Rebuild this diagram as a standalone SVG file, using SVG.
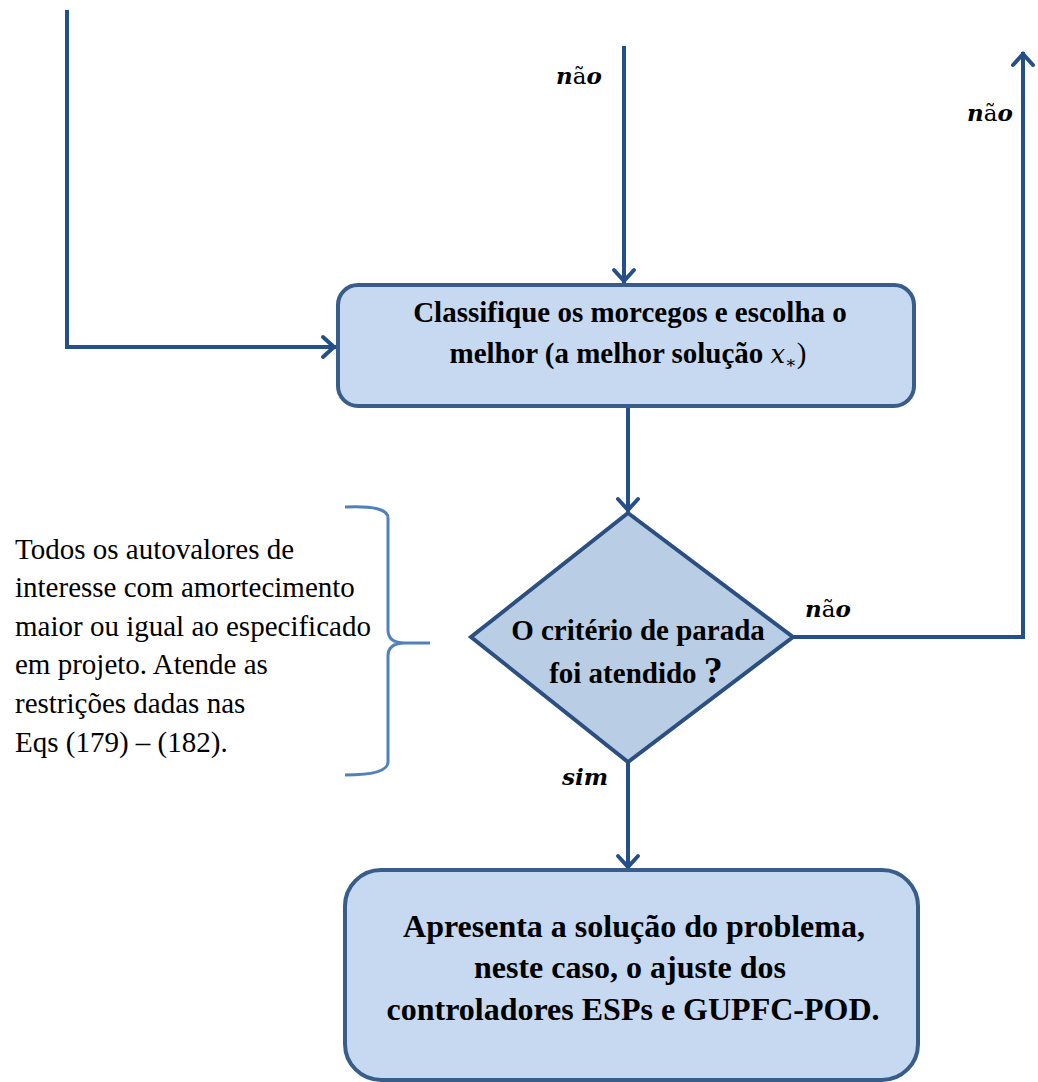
<svg xmlns="http://www.w3.org/2000/svg" width="1038" height="1082" viewBox="0 0 1038 1082">
  <style>
    .box { fill: #C6D9F1; stroke: #385D8A; stroke-width: 4; }
    .dec { fill: #B9CDE5; stroke: #2A4F80; stroke-width: 4; }
    .wire { fill: none; stroke: #254F87; stroke-width: 4; stroke-linecap: square; }
    .brace { fill: none; stroke: #4F81BD; stroke-width: 3; }
    .bt { font-family: "Liberation Serif", serif; font-weight: bold; fill: #000; text-anchor: middle; }
    .note { font-family: "Liberation Serif", serif; font-size: 29px; fill: #000; }
    .lbl { font-family: "DejaVu Serif", serif; font-size: 23px; font-weight: bold; font-style: italic; fill: #000; }
    .lbl .up { font-style: normal; font-weight: normal; }
  </style>
  <defs>
    <marker id="head" markerUnits="userSpaceOnUse" markerWidth="30" markerHeight="30" refX="15" refY="15" orient="auto" overflow="visible">
      <path d="M 4 5 L 15 15 L 4 25" fill="none" stroke="#254F87" stroke-width="4" stroke-linecap="round" stroke-linejoin="miter"/>
    </marker>
  </defs>

  <g id="connectors">
    <!-- loop back from the left into the ranking box -->
    <polyline class="wire" points="67,12 67,347 334,347" marker-end="url(#head)"/>
    <!-- incoming from above -->
    <line class="wire" x1="624" y1="48" x2="624" y2="281" marker-end="url(#head)"/>
    <!-- ranking box to decision -->
    <line class="wire" x1="628" y1="408" x2="628" y2="510" marker-end="url(#head)"/>
    <!-- "no" branch going back up on the right -->
    <polyline class="wire" points="793,637 1023,637 1023,54" marker-end="url(#head)"/>
    <!-- "yes" branch to result -->
    <line class="wire" x1="628" y1="763" x2="628" y2="867" marker-end="url(#head)"/>
  </g>

  <g id="rank">
    <rect class="box" x="338" y="285" width="576" height="121" rx="20" ry="20"/>
    <text class="bt" font-size="29" x="630" y="322">Classifique os morcegos e escolha o</text>
    <text class="bt" font-size="29" x="628" y="363">melhor (a melhor solução <tspan font-family="DejaVu Serif" font-style="italic" font-weight="normal" font-size="26">x</tspan><tspan font-family="DejaVu Serif" font-weight="normal" font-size="17" dy="5">∗</tspan><tspan font-weight="normal" dy="-5">)</tspan></text>
  </g>

  <g id="decision">
    <polygon class="dec" points="628,513 793,637 628,762 471,637"/>
    <text class="bt" font-size="29" x="638" y="640">O critério de parada</text>
    <text class="bt" font-size="29" x="636" y="683">foi atendido <tspan font-size="38">?</tspan></text>
  </g>

  <g id="result">
    <rect class="box" x="345" y="870" width="573" height="210" rx="36" ry="36"/>
    <text class="bt" font-size="32" x="634" y="937">Apresenta a solução do problema,</text>
    <text class="bt" font-size="32" x="630" y="978">neste caso, o ajuste dos</text>
    <text class="bt" font-size="32" x="633" y="1020">controladores ESPs e GUPFC-POD.</text>
  </g>

  <g id="criteria-note">
    <path class="brace" d="M 345 507 Q 388 505 388 518 L 388 630 Q 388 643 405 643 L 430 643 M 405 643 Q 388 643 388 656 L 388 762 Q 388 775 345 775"/>
    <text class="note" x="15" y="559">Todos os autovalores de</text>
    <text class="note" x="15" y="597">interesse com amortecimento</text>
    <text class="note" x="15" y="636">maior ou igual ao especificado</text>
    <text class="note" x="15" y="674">em projeto. Atende as</text>
    <text class="note" x="15" y="713">restrições dadas nas</text>
    <text class="note" x="15" y="752">Eqs (179) –  (182).</text>
  </g>

  <g id="labels">
    <text class="lbl" x="556" y="84">n<tspan class="up">ã</tspan>o</text>
    <text class="lbl" x="967" y="121">n<tspan class="up">ã</tspan>o</text>
    <text class="lbl" x="805" y="617">n<tspan class="up">ã</tspan>o</text>
    <text class="lbl" font-size="21" x="562" y="785">sim</text>
  </g>
</svg>
